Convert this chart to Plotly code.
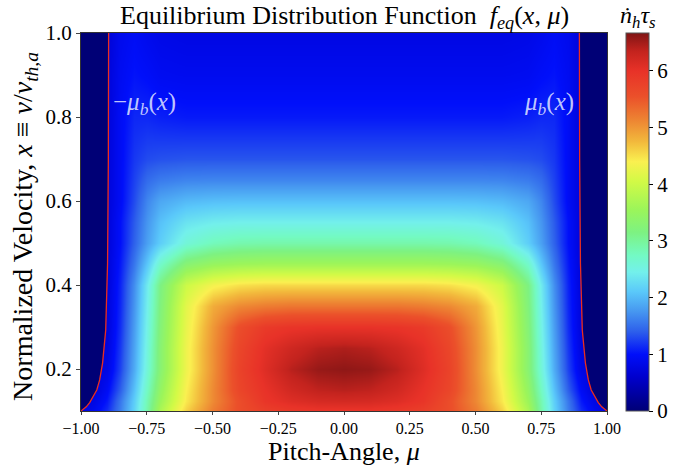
import plotly.graph_objects as go

# ---------------- data ----------------
# pitch-angle grid (columns) and normalized velocity grid (rows)
MU = [-1.0, -0.95, -0.9, -0.85, -0.8, -0.75, -0.7, -0.6, -0.5, -0.4, -0.3, -0.2, -0.1, 0.0,
      0.1, 0.2, 0.3, 0.4, 0.5, 0.6, 0.7, 0.75, 0.8, 0.85, 0.9, 0.95, 1.0]
XV = [0.1, 0.125, 0.15, 0.2, 0.25, 0.3, 0.35, 0.4, 0.45, 0.5, 0.55, 0.6, 0.65, 0.7, 0.8, 0.9, 1.0]

# f_eq values (n_h tau_s) on the grid, one row per velocity
F_EQ = [
    [0.75, 0.9, 1.15, 1.6, 2.2, 2.9, 3.7, 4.6, 5.2, 5.6, 5.8, 5.9, 5.95, 5.95, 5.95, 5.9, 5.8, 5.6, 5.2, 4.6, 3.7, 2.9, 2.2, 1.6, 1.15, 0.9, 0.75],
    [0.7, 0.8, 1.05, 1.55, 2.15, 2.85, 3.55, 4.45, 5.1, 5.6, 5.95, 6.1, 6.18, 6.2, 6.18, 6.1, 5.95, 5.6, 5.1, 4.45, 3.55, 2.85, 2.15, 1.55, 1.05, 0.8, 0.7],
    [0.7, 0.7, 0.95, 1.4, 2.05, 2.75, 3.45, 4.4, 5.1, 5.7, 6.0, 6.22, 6.36, 6.4, 6.36, 6.22, 6.0, 5.7, 5.1, 4.4, 3.45, 2.75, 2.05, 1.4, 0.95, 0.7, 0.7],
    [0.7, 0.7, 0.8, 1.25, 1.9, 2.6, 3.3, 4.3, 5.05, 5.75, 6.1, 6.4, 6.56, 6.6, 6.56, 6.4, 6.1, 5.75, 5.05, 4.3, 3.3, 2.6, 1.9, 1.25, 0.8, 0.7, 0.7],
    [0.7, 0.7, 0.75, 1.2, 1.85, 2.55, 3.3, 4.3, 5.05, 5.7, 6.05, 6.25, 6.4, 6.45, 6.4, 6.25, 6.05, 5.7, 5.05, 4.3, 3.3, 2.55, 1.85, 1.2, 0.75, 0.7, 0.7],
    [0.7, 0.7, 0.72, 1.15, 1.8, 2.5, 3.25, 4.25, 5.0, 5.6, 5.88, 5.97, 6.0, 6.0, 6.0, 5.97, 5.88, 5.6, 5.0, 4.25, 3.25, 2.5, 1.8, 1.15, 0.72, 0.7, 0.7],
    [0.7, 0.7, 0.72, 1.12, 1.75, 2.45, 3.2, 4.2, 4.85, 5.1, 5.2, 5.25, 5.25, 5.25, 5.25, 5.25, 5.2, 5.1, 4.85, 4.2, 3.2, 2.45, 1.75, 1.12, 0.72, 0.7, 0.7],
    [0.7, 0.7, 0.7, 1.1, 1.7, 2.4, 3.15, 4.0, 4.35, 4.5, 4.55, 4.55, 4.55, 4.55, 4.55, 4.55, 4.55, 4.5, 4.35, 4.0, 3.15, 2.4, 1.7, 1.1, 0.7, 0.7, 0.7],
    [0.7, 0.7, 0.7, 1.05, 1.55, 2.1, 2.7, 3.3, 3.5, 3.57, 3.6, 3.6, 3.6, 3.6, 3.6, 3.6, 3.6, 3.57, 3.5, 3.3, 2.7, 2.1, 1.55, 1.05, 0.7, 0.7, 0.7],
    [0.7, 0.7, 0.7, 1.0, 1.42, 1.82, 2.15, 2.6, 2.8, 2.88, 2.9, 2.9, 2.9, 2.9, 2.9, 2.9, 2.9, 2.88, 2.8, 2.6, 2.15, 1.82, 1.42, 1.0, 0.7, 0.7, 0.7],
    [0.7, 0.7, 0.7, 1.0, 1.38, 1.75, 2.05, 2.33, 2.42, 2.45, 2.45, 2.45, 2.45, 2.45, 2.45, 2.45, 2.45, 2.45, 2.42, 2.33, 2.05, 1.75, 1.38, 1.0, 0.7, 0.7, 0.7],
    [0.7, 0.7, 0.7, 0.95, 1.3, 1.65, 1.87, 2.0, 2.04, 2.05, 2.05, 2.05, 2.05, 2.05, 2.05, 2.05, 2.05, 2.05, 2.04, 2.0, 1.87, 1.65, 1.3, 0.95, 0.7, 0.7, 0.7],
    [0.7, 0.7, 0.7, 0.95, 1.25, 1.48, 1.58, 1.64, 1.65, 1.65, 1.65, 1.65, 1.65, 1.65, 1.65, 1.65, 1.65, 1.65, 1.65, 1.64, 1.58, 1.48, 1.25, 0.95, 0.7, 0.7, 0.7],
    [0.7, 0.7, 0.7, 0.95, 1.2, 1.3, 1.33, 1.35, 1.35, 1.35, 1.35, 1.35, 1.35, 1.35, 1.35, 1.35, 1.35, 1.35, 1.35, 1.35, 1.33, 1.3, 1.2, 0.95, 0.7, 0.7, 0.7],
    [0.7, 0.7, 0.7, 0.95, 1.12, 1.12, 1.08, 1.05, 1.05, 1.05, 1.05, 1.05, 1.05, 1.05, 1.05, 1.05, 1.05, 1.05, 1.05, 1.05, 1.08, 1.12, 1.12, 0.95, 0.7, 0.7, 0.7],
    [0.7, 0.7, 0.7, 0.92, 1.02, 0.98, 0.92, 0.9, 0.9, 0.9, 0.9, 0.9, 0.9, 0.9, 0.9, 0.9, 0.9, 0.9, 0.9, 0.9, 0.92, 0.98, 1.02, 0.92, 0.7, 0.7, 0.7],
    [0.68, 0.68, 0.68, 0.88, 0.95, 0.88, 0.83, 0.8, 0.8, 0.8, 0.8, 0.8, 0.8, 0.8, 0.8, 0.8, 0.8, 0.8, 0.8, 0.8, 0.83, 0.88, 0.95, 0.88, 0.68, 0.68, 0.68],
]

# trapped/passing boundary mu_b(x)
XB = [0.1, 0.105, 0.11, 0.12, 0.134, 0.15, 0.174, 0.214, 0.293, 0.452, 0.7, 1.0]
MU_B = [1.0, 0.99, 0.98, 0.967, 0.953, 0.94, 0.929, 0.918, 0.906, 0.899, 0.896, 0.895]

Z_MAX = 6.67
X_RANGE = [-1.0, 1.0]
Y_RANGE = [0.1, 1.0]
X_TICKS = [-1.0, -0.75, -0.5, -0.25, 0.0, 0.25, 0.5, 0.75, 1.0]
Y_TICKS = [0.2, 0.4, 0.6, 0.8, 1.0]
CB_TICKS = [0, 1, 2, 3, 4, 5, 6]

# colour map (value, colour)
CMAP = [
    (0.0, "rgb(0,0,118)"), (0.6, "rgb(0,0,205)"), (1.0, "rgb(0,15,250)"),
    (1.4, "rgb(45,95,235)"), (1.75, "rgb(70,150,240)"), (2.1, "rgb(90,200,250)"),
    (2.45, "rgb(115,240,235)"), (2.75, "rgb(115,250,195)"), (3.15, "rgb(125,242,130)"),
    (3.55, "rgb(155,245,90)"), (4.05, "rgb(210,250,70)"), (4.4, "rgb(250,240,80)"),
    (4.75, "rgb(242,185,60)"), (5.15, "rgb(237,130,50)"), (5.55, "rgb(235,80,42)"),
    (6.0, "rgb(232,50,40)"), (6.35, "rgb(195,35,30)"), (6.67, "rgb(128,20,20)"),
]
NAVY = "rgb(0,0,118)"
FONT = "Liberation Serif"
LABEL_COLOR = "rgba(210,215,255,0.92)"

colorscale = [[v / Z_MAX, c] for v, c in CMAP]

fig = go.Figure()
fig.add_trace(go.Heatmap(
    x=MU, y=XV, z=F_EQ, zmin=0, zmax=Z_MAX, zsmooth="best",
    colorscale=colorscale,
    colorbar=dict(
        x=1.036, xanchor="left", xref="paper", xpad=0, ypad=0,
        y=0.5, yanchor="middle", len=1.0, lenmode="fraction",
        thickness=23, outlinewidth=1, outlinecolor="#555",
        tickvals=CB_TICKS, ticks="outside", ticklen=4, tickcolor="black",
        tickfont=dict(family=FONT, size=21, color="black"),
    ),
    hoverinfo="skip",
))

# zero-valued (loss cone) regions outside the boundary
left_x = [X_RANGE[0]] + [-m for m in MU_B] + [X_RANGE[0]]
left_y = [XB[0]] + XB + [Y_RANGE[1]]
right_x = [X_RANGE[1]] + MU_B + [X_RANGE[1]]
right_y = [XB[0]] + XB + [Y_RANGE[1]]
for xs, ys in ((left_x, left_y), (right_x, right_y)):
    fig.add_trace(go.Scatter(x=xs, y=ys, fill="toself", fillcolor=NAVY, mode="none",
                             showlegend=False, hoverinfo="skip"))

# boundary lines
for sgn in (-1, 1):
    fig.add_trace(go.Scatter(x=[sgn * m for m in MU_B], y=XB, mode="lines",
                             line=dict(color="rgb(235,45,30)", width=1.3),
                             showlegend=False, hoverinfo="skip"))

fig.update_layout(
    width=696, height=468,
    margin=dict(l=81, r=89, t=33, b=57, autoexpand=False),
    paper_bgcolor="white", plot_bgcolor="white",
    font=dict(family=FONT, color="black"),
    xaxis=dict(range=X_RANGE, tickvals=X_TICKS, tickformat=".2f", ticks="outside", ticklen=3,
               showline=True, mirror=True, linecolor="#333", linewidth=1, showgrid=False, zeroline=False,
               tickfont=dict(family=FONT, size=16), automargin=False),
    yaxis=dict(range=Y_RANGE, tickvals=Y_TICKS, tickformat=".1f", ticks="outside", ticklen=4,
               showline=True, mirror=True, linecolor="#333", linewidth=1, showgrid=False, zeroline=False,
               tickfont=dict(family=FONT, size=21), automargin=False),
    annotations=[
        dict(text="Equilibrium Distribution Function  <i>f</i><sub><i>eq</i></sub>(<i>x</i>, <i>μ</i>)",
             x=0.5, y=1.0, xref="paper", yref="paper", xanchor="center", yanchor="top",
             yshift=33, borderpad=0, showarrow=False, font=dict(family=FONT, size=26, color="black")),
        dict(text="Pitch-Angle, <i>μ</i>", x=0.5, y=0.0, xref="paper", yref="paper",
             xanchor="center", yanchor="top", yshift=-25, borderpad=0, showarrow=False,
             font=dict(family=FONT, size=26, color="black")),
        dict(text="Normalized Velocity, <i>x</i> ≡ <i>v</i>/<i>v</i><sub><i>th,a</i></sub>",
             x=0.0, y=0.487, xref="paper", yref="paper", xanchor="center", yanchor="middle",
             xshift=-56, textangle=-90, showarrow=False,
             font=dict(family=FONT, size=28, color="black")),
        dict(text="−<i>μ</i><sub><i>b</i></sub>(<i>x</i>)", x=-0.885, y=0.833, xref="x", yref="y",
             xanchor="left", yanchor="middle", showarrow=False,
             font=dict(family=FONT, size=25, color=LABEL_COLOR)),
        dict(text="<i>μ</i><sub><i>b</i></sub>(<i>x</i>)", x=0.882, y=0.833, xref="x", yref="y",
             xanchor="right", yanchor="middle", showarrow=False,
             font=dict(family=FONT, size=25, color=LABEL_COLOR)),
        dict(text="<i>ṅ</i><sub><i>h</i></sub><i>τ</i><sub><i>s</i></sub>", x=1.058, y=1.0,
             xref="paper", yref="paper", xanchor="center", yanchor="bottom", yshift=-1,
             showarrow=False, font=dict(family=FONT, size=24, color="black")),
    ],
)

fig.write_html("out.html")
